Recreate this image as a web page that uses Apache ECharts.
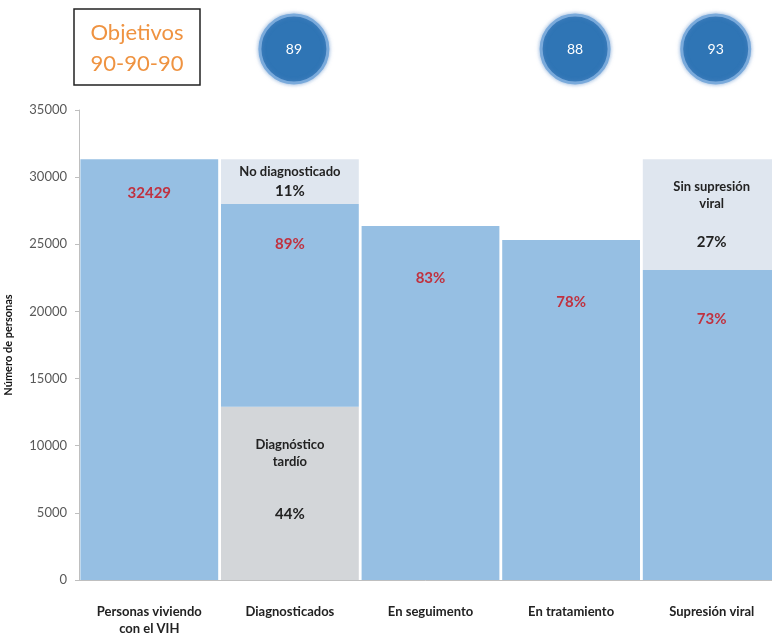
<!DOCTYPE html>
<html>
<head>
<meta charset="utf-8">
<script src="https://cdn.jsdelivr.net/npm/echarts@6/dist/echarts.min.js"></script>
<style>
  html, body { margin: 0; padding: 0; background: #fff; }
  #chart { width: 772px; height: 634px; }
</style>
</head>
<body>
<div id="chart"></div>
<script>
// datos
var categorias = ["Personas viviendo\ncon el VIH", "Diagnosticados", "En seguimento", "En tratamiento", "Supresión viral"];
var tardio = ["-", 12900, "-", "-", "-"];            // diagnóstico tardío (gris)
var azul = [31330, 15100, 26360, 25320, 23080];      // parte azul
var faltante = ["-", 3330, "-", "-", "-"];            // no diagnosticado
var sinSupresion = ["-", "-", "-", "-", 8250];        // sin supresión viral
var etiquetasAzul = ["32429", "89%", "83%", "78%", "73%"];
var objetivos = [null, "89", null, "88", "93"];

var rojo = "#c0313f";
var fuente = "Lato, 'Open Sans', sans-serif";

// distancia de la etiqueta roja al borde superior de cada barra
var distEtiqueta = [26, 33, 45, 55, 42];

let myChart = echarts.init(document.getElementById("chart"));

let dataAzul = azul.map(function (v, i) {
  return {
    value: v,
    label: {
      show: true,
      position: "insideTop",
      distance: distEtiqueta[i],
      formatter: etiquetasAzul[i],
      color: rojo,
      fontWeight: "bold",
      fontSize: 15,
      fontFamily: fuente
    }
  };
});

let option = {
  animation: false,
  grid: {
    left: 79,
    top: 110,
    width: 703,
    bottom: 54,
    outerBoundsMode: "none"
  },
  xAxis: {
    type: "category",
    data: categorias,
    axisLine: { show: true, lineStyle: { color: "#bfbfbf" } },
    axisTick: { show: false },
    axisLabel: {
      interval: 0,
      margin: 23,
      color: "#222",
      fontWeight: "bold",
      fontSize: 13,
      fontFamily: fuente,
      lineHeight: 17
    }
  },
  yAxis: {
    type: "value",
    min: 0,
    max: 35000,
    interval: 5000,
    name: "Número de personas",
    nameLocation: "middle",
    nameGap: 65,
    nameTextStyle: { color: "#111", fontWeight: "bold", fontSize: 11, fontFamily: fuente },
    axisLine: { show: true, lineStyle: { color: "#bfbfbf" } },
    axisTick: { show: true, length: 4, lineStyle: { color: "#bfbfbf" } },
    axisLabel: {
      color: "#595959",
      fontSize: 13,
      fontFamily: fuente,
      margin: 12,
      formatter: function (v) { return String(v); }
    },
    splitLine: { show: false }
  },
  series: [
    {
      name: "Diagnóstico tardío",
      type: "bar",
      stack: "total",
      barCategoryGap: "2%",
      itemStyle: { color: "#d3d6d9" },
      label: {
        show: true,
        position: "inside",
        offset: [0, -14],
        formatter: "{a|Diagnóstico}\n{a|tardío}\n{s|}\n{b|44%}",
        rich: {
          a: { fontSize: 13, fontWeight: "bold", color: "#222", lineHeight: 17, fontFamily: fuente },
          s: { lineHeight: 35 },
          b: { fontSize: 15, fontWeight: "bold", color: "#222", lineHeight: 17, fontFamily: fuente }
        }
      },
      data: tardio
    },
    {
      name: "Azul",
      type: "bar",
      stack: "total",
      barCategoryGap: "2%",
      itemStyle: { color: "#96bfe3" },
      data: dataAzul
    },
    {
      name: "No diagnosticado",
      type: "bar",
      stack: "total",
      barCategoryGap: "2%",
      itemStyle: { color: "#dfe6ef" },
      label: {
        show: true,
        position: "inside",
        formatter: "{a|No diagnosticado}\n{b|11%}",
        rich: {
          a: { fontSize: 13, fontWeight: "bold", color: "#222", lineHeight: 20, fontFamily: fuente },
          b: { fontSize: 15, fontWeight: "bold", color: "#222", lineHeight: 20, fontFamily: fuente }
        }
      },
      data: faltante
    },
    {
      name: "Sin supresión viral",
      type: "bar",
      stack: "total",
      barCategoryGap: "2%",
      itemStyle: { color: "#dfe6ef" },
      label: {
        show: true,
        position: "inside",
        formatter: "{a|Sin supresión}\n{a|viral}\n{s|}\n{b|27%}",
        rich: {
          a: { fontSize: 13, fontWeight: "bold", color: "#222", lineHeight: 17, fontFamily: fuente },
          s: { lineHeight: 21 },
          b: { fontSize: 15, fontWeight: "bold", color: "#222", lineHeight: 17, fontFamily: fuente }
        }
      },
      data: sinSupresion
    }
  ]
};

myChart.setOption(option);

// recuadro de objetivos y círculos encima de las barras
let graficos = [
  {
    type: "rect",
    shape: { x: 74, y: 9, width: 126, height: 76 },
    style: { fill: "#fff", stroke: "#222", lineWidth: 1.5 }
  },
  {
    type: "text",
    x: 137,
    y: 48,
    style: {
      text: "Objetivos\n90-90-90",
      fill: "#ef9341",
      font: "22px " + fuente,
      lineHeight: 31,
      align: "center",
      verticalAlign: "middle"
    }
  }
];
objetivos.forEach(function (t, i) {
  if (t === null) return;
  let px = myChart.convertToPixel({ xAxisIndex: 0 }, i);
  let cx = px + 4;
  graficos.push({
    type: "circle",
    shape: { cx: cx, cy: 49, r: 34 },
    style: {
      fill: "#2f75b5",
      stroke: "#7aaadb",
      lineWidth: 3,
      shadowBlur: 4,
      shadowColor: "rgba(90,140,200,0.6)"
    }
  });
  graficos.push({
    type: "text",
    x: cx,
    y: 49,
    style: {
      text: t,
      fill: "#fff",
      font: "14px " + fuente,
      align: "center",
      verticalAlign: "middle"
    }
  });
});
myChart.setOption({ graphic: graficos });
</script>
</body>
</html>
